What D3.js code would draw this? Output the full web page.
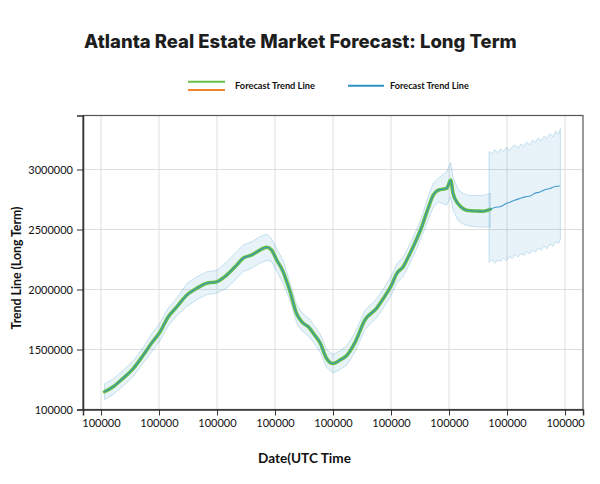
<!DOCTYPE html>
<html><head><meta charset="utf-8">
<script src="https://cdn.jsdelivr.net/npm/d3@7"></script>
<style>body{margin:0;background:#fff}</style>
</head><body><svg id="c" width="600" height="484"></svg>
<script>
// ---------- DATA ----------
const xTickValues = [0, 1, 2, 3, 4, 5, 6, 7, 8];
const xTickLabels = ["100000","100000","100000","100000","100000","100000","100000","100000","100000"];
const yTickValues = [1000000, 1500000, 2000000, 2500000, 3000000];
const yTickLabels = ["100000","1500000","2000000","2500000","3000000"];

const histX = [0.06,0.21,0.38,0.56,0.73,0.87,1.02,1.16,1.31,1.48,1.65,1.82,2.00,2.17,2.34,2.45,2.60,2.74,2.86,2.94,3.03,3.14,3.26,3.37,3.46,3.60,3.66,3.78,3.89,4.00,4.12,4.24,4.38,4.55,4.75,4.87,5.01,5.10,5.21,5.30,5.41,5.53,5.64,5.73,5.82,5.96,6.03,6.07,6.16,6.25,6.33,6.48,6.59,6.71];
const histY = [1148000,1190000,1260000,1343000,1454000,1552000,1648000,1773000,1857000,1954000,2010000,2052000,2065000,2121000,2204000,2260000,2288000,2329000,2352000,2329000,2246000,2148000,1982000,1802000,1732000,1677000,1635000,1552000,1425000,1383000,1412000,1452000,1560000,1746000,1843000,1927000,2038000,2135000,2190000,2273000,2385000,2523000,2677000,2788000,2829000,2843000,2912000,2800000,2712000,2672000,2658000,2654000,2652000,2668000];
const histUpper = [1213000,1255000,1325000,1408000,1519000,1627000,1723000,1848000,1932000,2049000,2105000,2147000,2160000,2231000,2314000,2370000,2398000,2439000,2462000,2424000,2341000,2243000,2057000,1877000,1807000,1752000,1710000,1627000,1500000,1458000,1490000,1532000,1640000,1826000,1923000,2007000,2118000,2215000,2270000,2353000,2465000,2603000,2777000,2888000,2929000,2983000,3057000,2937000,2830000,2800000,2785000,2782000,2783000,2803000];
const histLower = [1083000,1125000,1195000,1278000,1389000,1477000,1573000,1698000,1782000,1859000,1915000,1957000,1970000,2011000,2094000,2150000,2178000,2219000,2242000,2234000,2151000,2053000,1907000,1727000,1657000,1602000,1560000,1477000,1350000,1303000,1332000,1372000,1480000,1666000,1763000,1847000,1958000,2055000,2110000,2193000,2305000,2443000,2577000,2688000,2729000,2703000,2772000,2660000,2570000,2545000,2530000,2522000,2520000,2522000];

const fcX = [6.71,6.79,6.88,6.97,7.05,7.14,7.22,7.31,7.40,7.48,7.57,7.66,7.74,7.83,7.91];
const fcY = [2668000,2684000,2690000,2712000,2728000,2745000,2758000,2772000,2779000,2802000,2812000,2833000,2841000,2858000,2863000];

const fcBandX = [6.69,6.74,6.79,6.84,6.89,6.94,6.99,7.04,7.09,7.14,7.19,7.24,7.29,7.34,7.39,7.44,7.49,7.54,7.59,7.64,7.69,7.74,7.79,7.84,7.89,7.92];
const fcUpper = [3150000,3128000,3165000,3140000,3172000,3150000,3185000,3160000,3190000,3205000,3178000,3212000,3195000,3230000,3205000,3245000,3225000,3262000,3240000,3280000,3258000,3300000,3272000,3320000,3295000,3340000];
const fcLower = [2225000,2250000,2218000,2245000,2235000,2262000,2240000,2275000,2258000,2290000,2270000,2300000,2285000,2315000,2295000,2330000,2312000,2345000,2328000,2362000,2340000,2380000,2360000,2398000,2385000,2415000];

const titleText = "Atlanta Real Estate Market Forecast: Long Term";
const legendLabels = ["Forecast Trend Line", "Forecast Trend Line"];
const xTitle = "Date(UTC Time";
const yTitle = "Trend Line (Long Term)";

// ---------- CHART ----------
const svg = d3.select("#c");
const L = 83, R = 583, T = 115.5, B = 409.5;
const x = d3.scaleLinear().domain([-0.31, 8.31]).range([L, R]);
const y = d3.scaleLinear().domain([1000000, 3450000]).range([B, T]);

const GREEN = "#6abf45", ORANGE = "#f0862a", BLUE = "#2f8fc6";
const FONT = "Lato, 'Open Sans', sans-serif";

function fit(sel, w) {
  const n = sel.node();
  const fs = parseFloat(sel.attr("font-size"));
  const cur = n.getComputedTextLength();
  sel.attr("font-size", (fs * w / cur).toFixed(2));
}

// grid
svg.append("g").selectAll("line").data(xTickValues).join("line")
  .attr("x1", d => x(d)).attr("x2", d => x(d)).attr("y1", T).attr("y2", B)
  .attr("stroke", "#dedede").attr("stroke-width", 1);
svg.append("g").selectAll("line").data(yTickValues.slice(1)).join("line")
  .attr("x1", L).attr("x2", R).attr("y1", d => y(d)).attr("y2", d => y(d))
  .attr("stroke", "#dedede").attr("stroke-width", 1);

// bands
const hist = histX.map((d, i) => ({x: d, y: histY[i], lo: histLower[i], hi: histUpper[i]}));
const fcb = fcBandX.map((d, i) => ({x: d, lo: fcLower[i], hi: fcUpper[i]}));
const area = d3.area().x(d => x(d.x)).y0(d => y(d.lo)).y1(d => y(d.hi)).curve(d3.curveLinear);
svg.append("path").datum(hist).attr("d", area)
  .attr("fill", BLUE).attr("fill-opacity", 0.11)
  .attr("stroke", BLUE).attr("stroke-opacity", 0.3).attr("stroke-width", 0.8);
svg.append("path").datum(fcb).attr("d", area)
  .attr("fill", BLUE).attr("fill-opacity", 0.11)
  .attr("stroke", BLUE).attr("stroke-opacity", 0.3).attr("stroke-width", 0.8);

// lines
const line = d3.line().x(d => x(d.x)).y(d => y(d.y)).curve(d3.curveMonotoneX);
svg.append("path").datum(hist).attr("d", line)
  .attr("fill", "none").attr("stroke", GREEN).attr("stroke-width", 3.6)
  .attr("stroke-linejoin", "round").attr("stroke-linecap", "round");
const full = hist.map(d => ({x: d.x, y: d.y})).concat(fcX.slice(1).map((d, i) => ({x: d, y: fcY[i + 1]})));
svg.append("path").datum(full).attr("d", line)
  .attr("fill", "none").attr("stroke", BLUE).attr("stroke-width", 1.1).attr("stroke-opacity", 0.9);

// frame
svg.append("rect").attr("x", L).attr("y", T).attr("width", R - L).attr("height", B - T)
  .attr("fill", "none").attr("stroke", "#555").attr("stroke-width", 1.2);

// axes
const ax = d3.axisBottom(x).tickValues(xTickValues).tickFormat((d, i) => xTickLabels[i]).tickSize(6).tickPadding(4);
const gx = svg.append("g").attr("transform", `translate(0,${B})`).call(ax);
const ay = d3.axisLeft(y).tickValues(yTickValues).tickFormat((d, i) => yTickLabels[i]).tickSize(6).tickPadding(4);
const gy = svg.append("g").attr("transform", `translate(${L},0)`).call(ay);
[gx, gy].forEach(g => {
  g.select(".domain").attr("stroke", "#333").attr("stroke-width", 1.5);
  g.selectAll(".tick line").attr("stroke", "#333");
  g.selectAll(".tick text").attr("font-family", FONT).attr("font-size", 11).attr("fill", "#111");
});

// titles
const title = svg.append("text").attr("x", 84).attr("y", 48).text(titleText)
  .attr("font-family", "Inter, 'Open Sans', sans-serif").attr("font-weight", 800)
  .attr("font-size", 19).attr("fill", "#1e1e1e");
fit(title, 433);

const xt = svg.append("text").attr("x", 258).attr("y", 463).text(xTitle)
  .attr("font-family", FONT).attr("font-weight", 700).attr("font-size", 13).attr("fill", "#111");
fit(xt, 93);
const yt = svg.append("text").attr("transform", "translate(21,268) rotate(-90)")
  .attr("text-anchor", "middle").text(yTitle)
  .attr("font-family", FONT).attr("font-weight", 700).attr("font-size", 13).attr("fill", "#111");
fit(yt, 123);

// legend
const lg = svg.append("g");
lg.append("line").attr("x1", 188).attr("x2", 225).attr("y1", 81.7).attr("y2", 81.7).attr("stroke", GREEN).attr("stroke-width", 2);
lg.append("line").attr("x1", 188).attr("x2", 225).attr("y1", 90).attr("y2", 90).attr("stroke", ORANGE).attr("stroke-width", 2);
lg.append("line").attr("x1", 348).attr("x2", 384).attr("y1", 85.8).attr("y2", 85.8).attr("stroke", BLUE).attr("stroke-width", 2);
const l1 = lg.append("text").attr("x", 235).attr("y", 88.5).text(legendLabels[0])
  .attr("font-family", FONT).attr("font-weight", 700).attr("font-size", 9).attr("fill", "#111");
fit(l1, 80);
const l2 = lg.append("text").attr("x", 390).attr("y", 88.5).text(legendLabels[1])
  .attr("font-family", FONT).attr("font-weight", 700).attr("font-size", 9).attr("fill", "#111");
fit(l2, 79);
</script></body></html>
